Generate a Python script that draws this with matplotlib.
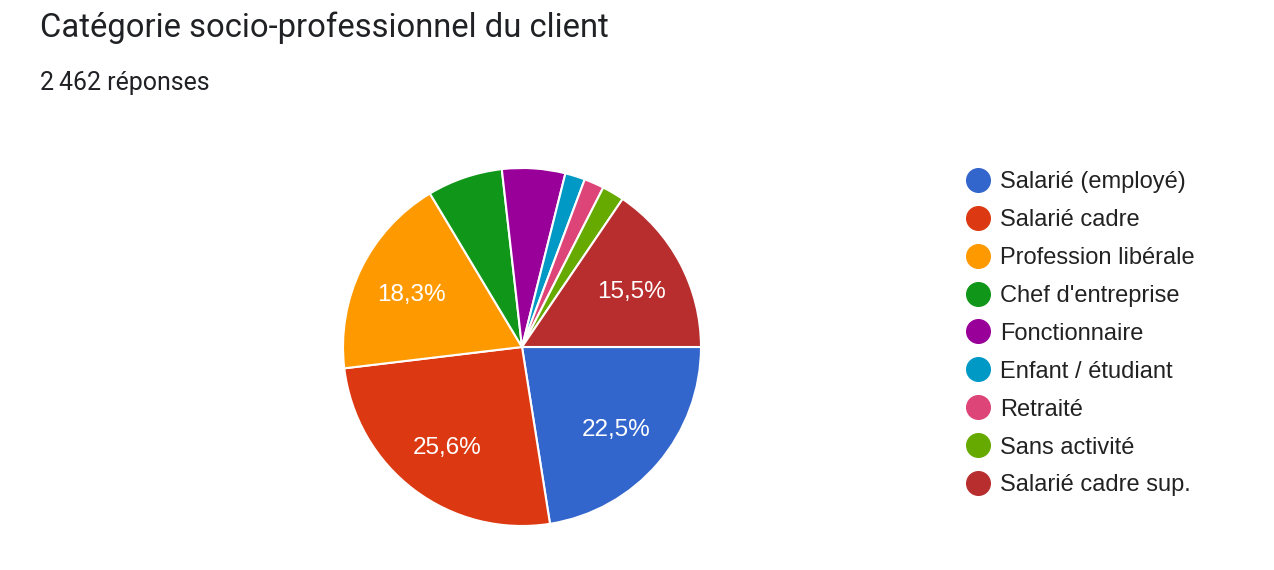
import matplotlib
matplotlib.use("Agg")
import matplotlib.pyplot as plt
from matplotlib.lines import Line2D

# data
categories = ["Salarié (employé)", "Salarié cadre", "Profession libérale",
              "Chef d'entreprise", "Fonctionnaire", "Enfant / étudiant",
              "Retraité", "Sans activité", "Salarié cadre sup."]
shares = [22.5, 25.6, 18.3, 6.8, 5.7, 1.8, 1.8, 2.0, 15.5]
colors = ["#3366cc", "#dc3912", "#ff9900", "#109618", "#990099",
          "#0099c6", "#dd4477", "#66aa00", "#b82e2e"]
title = "Catégorie socio-professionnel du client"
subtitle = "2\u202f462 réponses"

W, H = 1274, 570
fig = plt.figure(figsize=(W / 100, H / 100), dpi=100)
fig.patch.set_facecolor("white")

# pie axes: centre (522, 347) px, radius 179 px
cx, cy, r = 522, 347, 179
ax = fig.add_axes([(cx - r) / W, (H - cy - r) / H, 2 * r / W, 2 * r / H])


def fmt(p):
    return f"{p:.1f}%".replace(".", ",") if p >= 10 else ""


wedges, texts, autotexts = ax.pie(
    shares, colors=colors, startangle=0, counterclock=False,
    autopct=fmt, pctdistance=0.69, radius=1,
    wedgeprops=dict(edgecolor="white", linewidth=1.5),
    textprops=dict(color="white", fontsize=17.5, family="Liberation Sans"))
for t in autotexts:
    t.set_va("center_baseline")
ax.set_xlim(-1, 1)
ax.set_ylim(-1, 1)
ax.axis("off")

fig.text(40 / W, 1 - 37 / H, title, fontsize=23.6, family=["Roboto", "DejaVu Sans"],
         color="#202124", va="baseline", ha="left")
fig.text(40 / W, 1 - 90 / H, subtitle, fontsize=17.9, family=["Roboto", "DejaVu Sans"],
         color="#202124", va="baseline", ha="left")

handles = [Line2D([], [], marker="o", linestyle="", markersize=17,
                  markerfacecolor=c, markeredgecolor=c) for c in colors]
fig.legend(handles, categories, loc="upper left",
           bbox_to_anchor=(966 / W, 1 - 171 / H), frameon=False,
           prop=dict(family="Liberation Sans", size=17),
           labelcolor="#222222", handlelength=1.0, handletextpad=0.43,
           labelspacing=0.675, borderpad=0, borderaxespad=0)

fig.savefig("out.png", dpi=100, facecolor="white")
